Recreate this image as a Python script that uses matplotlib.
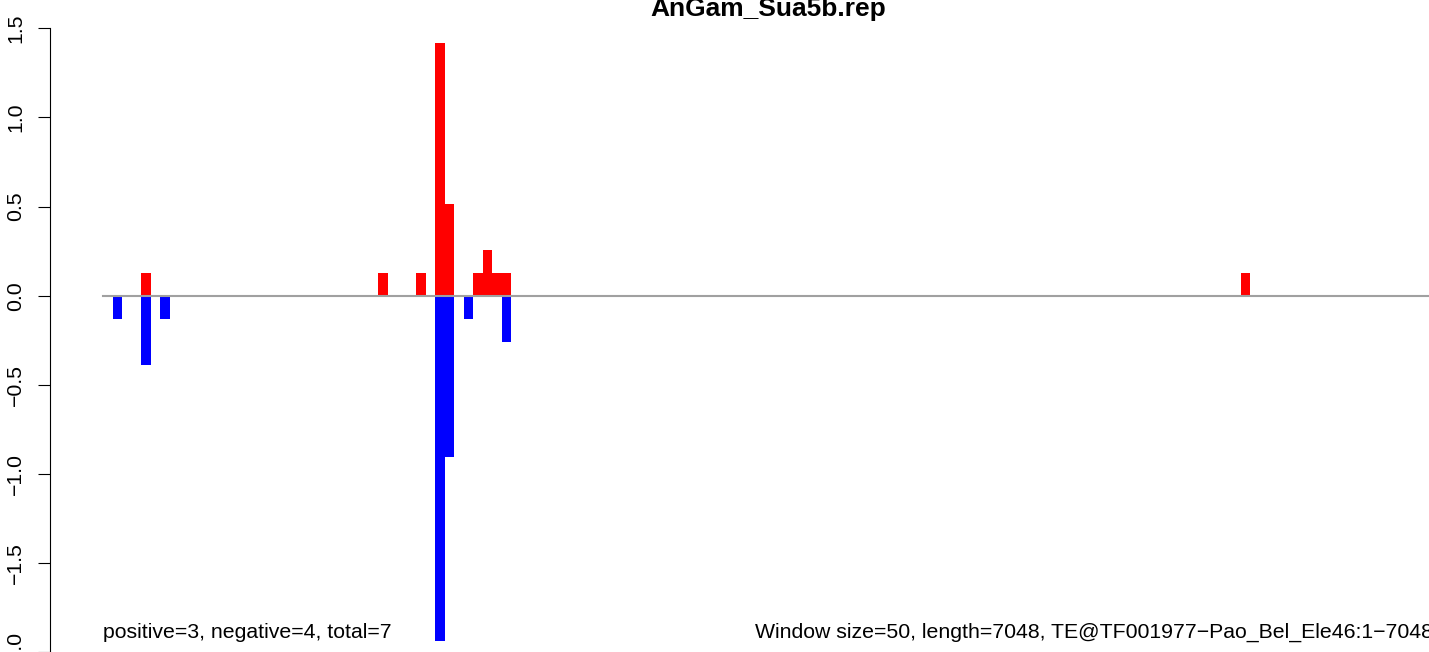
import matplotlib
matplotlib.use("Agg")
from matplotlib import pyplot as plt

# window index (0-based, window size 50) and bar heights
pos_idx = [4, 29, 33, 35, 36, 39, 40, 41, 42, 120]
pos_val = [0.127, 0.127, 0.127, 1.419, 0.514, 0.127, 0.256, 0.127, 0.127, 0.127]
neg_idx = [1, 4, 6, 35, 36, 38, 42]
neg_val = [-0.129, -0.387, -0.129, -1.935, -0.903, -0.129, -0.258]

n_windows = 141
y_ticks = [-2.0, -1.5, -1.0, -0.5, 0.0, 0.5, 1.0, 1.5]
title = "AnGam_Sua5b.rep"
left_note = "positive=3, negative=4, total=7"
right_note = "Window size=50, length=7048, TE@TF001977\u2212Pao_Bel_Ele46:1\u22127048"

plt.rcParams['font.family'] = ['Liberation Sans', 'DejaVu Sans']

W, H = 1429, 652
fig = plt.figure(figsize=(W / 100, H / 100), dpi=100)

# plot region (in pixels) extends past the picture edges, like the cropped R output
x0_px, x1_px = 50.0, 1493.5
y_top_px, y_bot_px = 3.3, 677.3
ax = fig.add_axes([x0_px / W, (H - y_bot_px) / H,
                   (x1_px - x0_px) / W, (y_bot_px - y_top_px) / H])

ax.bar(pos_idx, pos_val, width=1.0, align='edge', color='#FF0000', linewidth=0)
ax.bar(neg_idx, neg_val, width=1.0, align='edge', color='#0000FF', linewidth=0)
ax.plot([0, n_windows], [0, 0], color='#A0A0A0', lw=1.5, zorder=5)

ax.set_xlim(-0.04 * n_windows, 1.04 * n_windows)
ax.set_ylim(-2.14, 1.64)

for side in ['top', 'right', 'bottom']:
    ax.spines[side].set_visible(False)
ax.spines['left'].set_bounds(-2.0, 1.5)
ax.spines['left'].set_linewidth(0.8)
ax.set_xticks([])
ax.set_yticks(y_ticks)
ax.set_yticklabels([f"{t:.1f}".replace('-', '\u2212') for t in y_ticks],
                   rotation=90, va='center', fontsize=15.3)
ax.tick_params(axis='y', length=8.9, width=0.8, pad=9)

ax.text(0, -1.89, left_note, ha='left', va='center', fontsize=15.3)
ax.text(140.2, -1.89, right_note, ha='right', va='center', fontsize=15.3)

fig.text(768.5 / W, (H - 16) / H, title, ha='center',
         va='baseline', fontsize=19, fontweight='bold')

fig.savefig('out.png', dpi=100)
plt.close(fig)
